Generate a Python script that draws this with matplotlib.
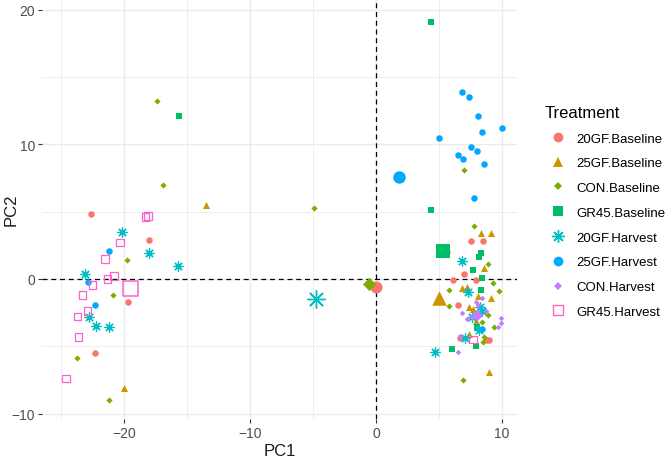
import numpy as np
import matplotlib.pyplot as plt
from matplotlib.lines import Line2D

plt.rcParams['font.family'] = ['Liberation Sans', 'DejaVu Sans']

# group names and colours (ggplot hue palette)
groups = ["20GF.Baseline", "25GF.Baseline", "CON.Baseline", "GR45.Baseline",
          "20GF.Harvest", "25GF.Harvest", "CON.Harvest", "GR45.Harvest"]
colors = ["#F8766D", "#CD9600", "#7CAE00", "#00BE67",
          "#00BFC4", "#00A9FF", "#C77CFF", "#FF61CC"]

# individual scores
gf20_base_x = [-22.6, -18.0, -19.7, -22.3, 7.5, 8.5, 5.6, 7.0, 7.9, 6.1, 6.5, 6.7, 8.8, 9.0]
gf20_base_y = [4.8, 2.9, -1.7, -5.5, 2.8, 2.8, 2.0, 0.35, -0.05, -0.1, -1.9, -4.4, -4.5, -4.5]

gf25_base_x = [-13.5, -20.0, 8.3, 9.1, 8.6, 6.8, 7.2, 8.1, 9.1, 7.4, 7.7, 7.9, 7.4, 9.0]
gf25_base_y = [5.5, -8.1, 3.4, 3.4, 0.8, -0.7, -0.6, -1.3, -1.4, -2.1, -2.2, -3.1, -4.1, -6.9]

con_base_x = [-17.4, -16.9, -19.8, -20.9, -23.7, -21.2, -4.9, 7.0, 7.8, 8.9,
              9.3, 5.8, 9.8, 5.8, 8.9, 8.4, 9.4, 8.6, 8.5, 6.9]
con_base_y = [13.2, 7.0, 1.4, -1.2, -5.9, -9.0, 5.3, 8.1, 3.9, 1.1,
              -0.3, -0.8, -0.9, -2.0, -2.65, -3.2, -3.6, -4.3, -4.7, -7.5]

gr45_base_x = [-15.6, 4.4, 4.4, 8.3, 8.2, 7.7, 8.4, 8.3, 8.0, 7.9, 6.0]
gr45_base_y = [12.1, 19.1, 5.1, 1.9, 1.6, 0.7, 0.05, -0.8, -3.6, -5.0, -5.2]

gf20_harv_x = [-20.2, -18.0, -15.7, -23.1, -22.8, -22.2, -21.2,
               6.85, 7.3, 8.25, 8.4, 7.65, 8.2, 7.1, 4.7]
gf20_harv_y = [3.5, 1.9, 1.0, 0.4, -2.8, -3.5, -3.6,
               1.3, -1.0, -2.1, -2.4, -2.85, -3.8, -4.4, -5.45]

gf25_harv_x = [-21.2, -22.9, -22.3, 6.8, 7.4, 8.1, 10.0, 8.4, 5.0, 7.5, 8.0, 6.5, 6.9, 8.6, 7.8, 8.4]
gf25_harv_y = [2.1, -0.2, -1.9, 13.9, 13.5, 12.1, 11.2, 10.9, 10.5, 9.8, 9.5, 9.2, 8.9, 8.55, 6.0, -3.7]

con_harv_x = [8.4, 7.9, 8.1, 6.8, 8.7, 7.6, 7.2, 9.9, 9.9, 9.7, 6.7, 6.5]
con_harv_y = [-1.4, -1.7, -1.9, -2.5, -2.4, -2.8, -3.0, -2.9, -3.3, -3.6, -4.2, -5.45]

gr45_harv_x = [-18.3, -18.1, -20.3, -21.5, -20.8, -21.3, -22.5, -23.3, -22.9, -23.7, -23.6, -24.6, 7.7]
gr45_harv_y = [4.6, 4.7, 2.7, 1.5, 0.2, 0.0, -0.45, -1.2, -2.4, -2.8, -4.3, -7.4, -4.5]

# group means (large points)
mean_x = [0.0, 5.0, -0.55, 5.3, -4.8, 1.8, 8.0, -19.5]
mean_y = [-0.6, -1.4, -0.4, 2.1, -1.5, 7.6, -2.7, -0.7]

all_x = [gf20_base_x, gf25_base_x, con_base_x, gr45_base_x,
         gf20_harv_x, gf25_harv_x, con_harv_x, gr45_harv_x]
all_y = [gf20_base_y, gf25_base_y, con_base_y, gr45_base_y,
         gf20_harv_y, gf25_harv_y, con_harv_y, gr45_harv_y]

markers = ['o', '^', 'D', 's', (8, 2, 0), 'o', 'D', 's']
sizes = [22, 26, 10, 22, 45, 22, 8, 30]
big_sizes = [75, 110, 45, 90, 160, 80, 35, 110]
filled = [True, True, True, True, False, True, True, False]


fig = plt.figure(figsize=(6.69, 4.6), dpi=100)
ax = fig.add_axes([0.063, 0.087, 0.71, 0.913])

for i in range(len(groups)):
    if markers[i] == (8, 2, 0):
        ax.scatter(all_x[i], all_y[i], marker=markers[i], s=sizes[i], color=colors[i], linewidths=0.9, zorder=3)
        ax.scatter(mean_x[i], mean_y[i], marker=markers[i], s=big_sizes[i], color=colors[i], linewidths=1.0, zorder=3)
    elif filled[i]:
        ax.scatter(all_x[i], all_y[i], marker=markers[i], s=sizes[i], color=colors[i], linewidths=0, zorder=3)
        ax.scatter(mean_x[i], mean_y[i], marker=markers[i], s=big_sizes[i], color=colors[i], linewidths=0, zorder=3)
    else:
        ax.scatter(all_x[i], all_y[i], marker=markers[i], s=sizes[i], facecolors='none',
                   edgecolors=colors[i], linewidths=0.9, zorder=3)
        ax.scatter(mean_x[i], mean_y[i], marker=markers[i], s=big_sizes[i], facecolors='none',
                   edgecolors=colors[i], linewidths=1.1, zorder=3)

ax.axhline(0, color='black', linestyle=(0, (4, 3)), linewidth=0.9, zorder=2)
ax.axvline(0, color='black', linestyle=(0, (4, 3)), linewidth=0.9, zorder=2)

ax.set_xlim(-26.5, 11.2)
ax.set_ylim(-10.4, 20.8)
ax.set_xticks([-20, -10, 0, 10])
ax.set_yticks([-10, 0, 10, 20])
ax.set_xticks([-25, -15, -5, 5], minor=True)
ax.set_yticks([-5, 5, 15], minor=True)
ax.grid(which='major', color='#EBEBEB', linewidth=1.0, zorder=0)
ax.grid(which='minor', color='#EBEBEB', linewidth=0.6, zorder=0)
ax.set_axisbelow(True)
for sp in ax.spines.values():
    sp.set_visible(False)
ax.tick_params(which='major', length=3, width=0.8, color='#333333', labelcolor='#4D4D4D', labelsize=10, pad=2)
ax.tick_params(which='minor', length=0)
ax.set_xlabel("PC1", fontsize=12, color='#1A1A1A', labelpad=2)
ax.set_ylabel("PC2", fontsize=12, color='#1A1A1A')
ax.yaxis.set_label_coords(-0.05, 0.5)

handles = []
for i in range(len(groups)):
    m = markers[i]
    if filled[i]:
        h = Line2D([], [], linestyle='none', marker=m, color=colors[i], markersize=7 if m != 'D' else 4.5,
                   markeredgewidth=0)
    else:
        h = Line2D([], [], linestyle='none', marker=m, markerfacecolor='none',
                   markeredgecolor=colors[i], markersize=7, markeredgewidth=1.0)
    if m == (8, 2, 0):
        h = Line2D([], [], linestyle='none', marker=m, color=colors[i], markersize=9, markeredgewidth=1.0)
    handles.append(h)

leg = fig.legend(handles, groups, title="Treatment", loc='upper left', bbox_to_anchor=(0.80, 0.79),
                 frameon=False, fontsize=9.5, title_fontsize=12, labelspacing=0.95,
                 handletextpad=0.4, borderpad=0.2)
leg._legend_box.align = 'left'
leg._legend_box.sep = 9

fig.savefig("out.png", dpi=100)
